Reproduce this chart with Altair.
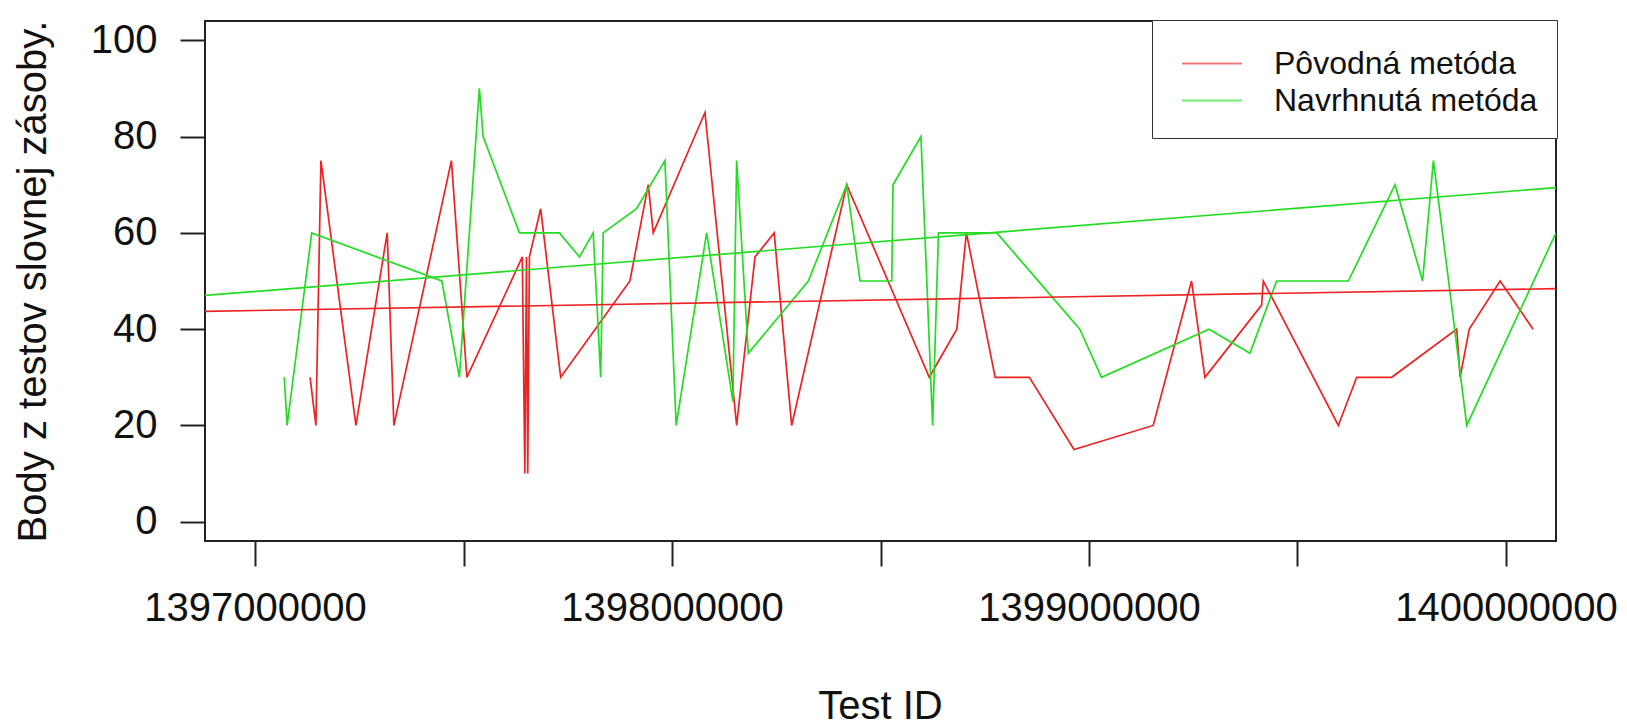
import altair as alt
import pandas as pd

# ---- data ----
series_names = ["Pôvodná metóda", "Navrhnutá metóda"]
series_colors = ["#ee2222", "#22dd22"]

orig_ids = [1397132000, 1397146000, 1397158000, 1397242000, 1397317000, 1397333000,
            1397471000, 1397508000, 1397641000, 1397647000, 1397651000, 1397654000,
            1397658000, 1397685000, 1397733000, 1397899000, 1397943000, 1397955000,
            1398079000, 1398155000, 1398199000, 1398245000, 1398287000, 1398419000,
            1398617000, 1398683000, 1398706000, 1398775000, 1398857000, 1398964000,
            1399154000, 1399246000, 1399278000, 1399414000, 1399418000, 1399598000,
            1399642000, 1399726000, 1399882000, 1399890000, 1399912000, 1399986000,
            1400065000]
orig_scores = [30, 20, 75, 20, 60, 20,
               75, 30, 55, 10, 55, 10,
               55, 65, 30, 50, 70, 60,
               85, 20, 55, 60, 20, 70,
               30, 40, 60, 30, 30, 15,
               20, 50, 30, 45, 50, 20,
               30, 30, 40, 30, 40, 50,
               40]

new_ids = [1397070000, 1397077000, 1397136000, 1397448000, 1397490000, 1397538000,
           1397547000, 1397634000, 1397730000, 1397778000, 1397811000, 1397829000,
           1397835000, 1397915000, 1397983000, 1398010000, 1398083000, 1398146000,
           1398155000, 1398183000, 1398327000, 1398419000, 1398451000, 1398527000,
           1398530000, 1398597000, 1398625000, 1398639000, 1398779000, 1398978000,
           1399030000, 1399288000, 1399386000, 1399450000, 1399622000, 1399734000,
           1399800000, 1399826000, 1399906000, 1400120000]
new_scores = [30, 20, 60, 50, 30, 90,
              80, 60, 60, 55, 60, 30,
              60, 65, 75, 20, 60, 25,
              75, 35, 50, 70, 50, 50,
              70, 80, 20, 60, 60, 40,
              30, 40, 35, 50, 50, 70,
              50, 75, 20, 60]

# regression (trend) lines: values at the two ends of the x range
trend_ids = [1396880000, 1400120000]
orig_trend = [43.7, 48.4]
new_trend = [47.0, 69.4]

x_domain = [1396880000, 1400120000]
y_domain = [-4, 104]
x_ticks = [1397000000, 1397500000, 1398000000, 1398500000, 1399000000, 1399500000, 1400000000]
y_ticks = [0, 20, 40, 60, 80, 100]

# ---- tables ----
pts = pd.DataFrame({
    "id": orig_ids + new_ids,
    "score": orig_scores + new_scores,
    "series": [series_names[0]] * len(orig_ids) + [series_names[1]] * len(new_ids),
})
trend = pd.DataFrame({
    "id": trend_ids + trend_ids,
    "score": orig_trend + new_trend,
    "series": [series_names[0]] * 2 + [series_names[1]] * 2,
})

FONT = "Liberation Sans"

x_enc = alt.X(
    "id:Q",
    scale=alt.Scale(domain=x_domain, nice=False, zero=False),
    axis=alt.Axis(
        values=x_ticks,
        labelExpr="datum.value % 1000000 === 0 ? format(datum.value, 'd') : ''",
        title="Test ID",
        labelBaseline="alphabetic",
        labelPadding=54,
        labelFlush=False,
        labelOverlap=False,
        labelLimit=0,
        titleX=675,
        titleY=177,
        titleBaseline="alphabetic",
        titleAlign="center",
    ),
)
y_enc = alt.Y(
    "score:Q",
    scale=alt.Scale(domain=y_domain, nice=False, zero=False),
    axis=alt.Axis(
        values=y_ticks,
        title="Body z testov slovnej zásoby.",
        labelPadding=23,
        titleX=-160,
        titleY=260,
        titleAngle=270,
        titleAlign="center",
        titleBaseline="alphabetic",
    ),
)
color_enc = alt.Color(
    "series:N",
    scale=alt.Scale(domain=series_names, range=series_colors),
    legend=alt.Legend(
        title=" ",
        titleFontSize=2,
        titlePadding=4,
        orient="none",
        legendX=947,
        legendY=-1,
        direction="vertical",
        symbolType="stroke",
        symbolSize=3600,
        symbolStrokeWidth=2,
        symbolOpacity=0.6,
        labelFont=FONT,
        labelFontSize=32,
        labelColor="#111111",
        labelLimit=600,
        strokeColor="#333333",
        fillColor="white",
        padding=19,
        clipHeight=37,
        symbolOffset=10,
        labelOffset=31,
        rowPadding=0,
    ),
)

lines = alt.Chart(pts).mark_line(strokeWidth=1.7, clip=True).encode(
    x=x_enc, y=y_enc, color=color_enc, order=alt.Order("id:Q")
)
trends = alt.Chart(trend).mark_line(strokeWidth=1.7, clip=True).encode(
    x=x_enc, y=y_enc, color=color_enc
)

chart = (
    alt.layer(lines, trends)
    .properties(
        width=1351,
        height=520,
        autosize=alt.AutoSizeParams(type="none"),
        padding={"left": 197, "top": 13, "right": 62, "bottom": 187},
        background="white",
    )
    .configure_view(stroke="#222222", strokeWidth=2)
    .configure_axis(
        labelFont=FONT,
        titleFont=FONT,
        labelFontSize=40,
        titleFontSize=40,
        titleFontWeight="normal",
        labelColor="#111111",
        titleColor="#111111",
        tickColor="#222222",
        tickWidth=2,
        tickSize=25,
        domain=False,
        grid=False,
    )
)

chart.save("out.html", embed_options={"renderer": "svg", "actions": False})
